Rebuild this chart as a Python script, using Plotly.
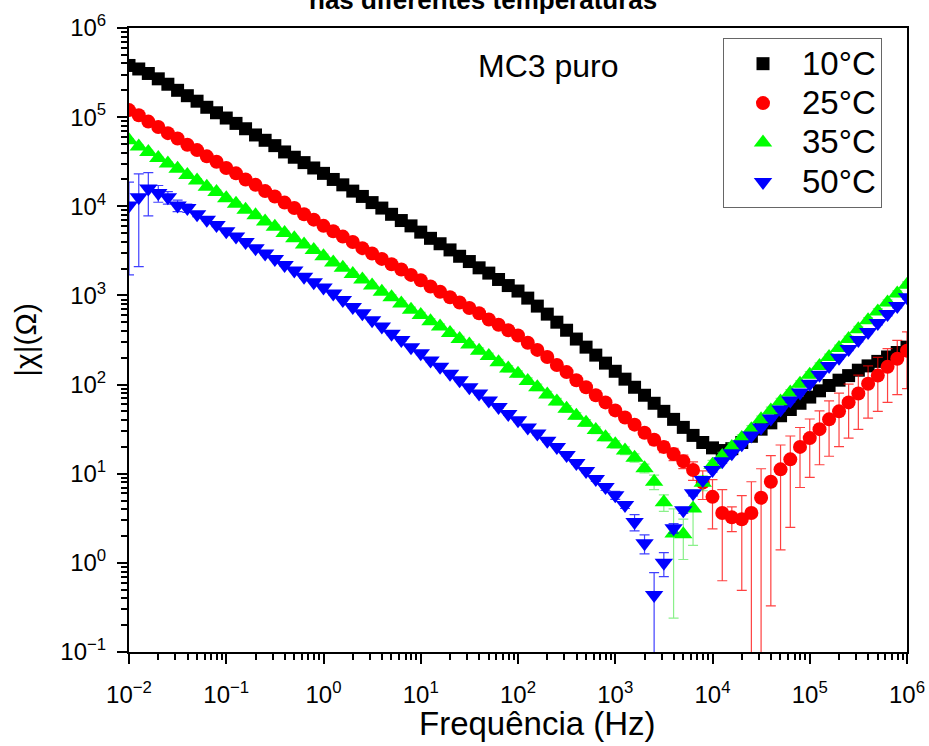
import plotly.graph_objects as go

# ---------------- data ----------------
FREQ_HZ = [
    0.01, 0.0126, 0.0158, 0.02, 0.0251, 0.0316, 0.0398, 0.0501, 0.0631, 0.0794,
    0.1, 0.126, 0.158, 0.2, 0.251, 0.316, 0.398, 0.501, 0.631, 0.794,
    1.0, 1.26, 1.58, 2.0, 2.51, 3.16, 3.98, 5.01, 6.31, 7.94,
    10.0, 12.6, 15.8, 20.0, 25.1, 31.6, 39.8, 50.1, 63.1, 79.4,
    100, 126, 158, 200, 251, 316, 398, 501, 631, 794,
    1000, 1260, 1580, 2000, 2510, 3160, 3980, 5010, 6310, 7940,
    1.0e4, 1.26e4, 1.58e4, 2.0e4, 2.51e4, 3.16e4, 3.98e4, 5.01e4, 6.31e4, 7.94e4,
    1.0e5, 1.26e5, 1.58e5, 2.0e5, 2.51e5, 3.16e5, 3.98e5, 5.01e5, 6.31e5, 7.94e5,
    1.0e6]

X_10C = [
    3.80e5, 3.47e5, 3.09e5, 2.69e5, 2.34e5, 2.00e5, 1.74e5, 1.51e5, 1.29e5, 1.12e5,
    9.77e4, 8.51e4, 7.41e4, 6.31e4, 5.50e4, 4.79e4, 4.07e4, 3.55e4, 3.09e4, 2.69e4,
    2.34e4, 2.00e4, 1.74e4, 1.48e4, 1.29e4, 1.10e4, 9550, 8130, 6920, 6030,
    5130, 4370, 3800, 3240, 2750, 2400, 2040, 1780, 1510, 1290,
    1120, 933, 759, 617, 501, 407, 324, 263, 214, 174,
    141, 115, 93.3, 75.9, 61.7, 50.1, 40.7, 33.1, 26.9, 22.4,
    19.5, 18.2, 19.1, 22.4, 26.3, 31.6, 37.2, 44.7, 52.5, 61.7,
    72.4, 85.1, 97.7, 112, 126, 145, 162, 182, 204, 229,
    263]

X_25C = [
    1.20e5, 1.05e5, 8.91e4, 7.76e4, 6.61e4, 5.75e4, 4.90e4, 4.27e4, 3.63e4, 3.16e4,
    2.69e4, 2.34e4, 2.00e4, 1.74e4, 1.48e4, 1.29e4, 1.10e4, 9550, 8130, 7080,
    6030, 5250, 4570, 3980, 3390, 2950, 2570, 2240, 1950, 1700,
    1480, 1260, 1100, 955, 832, 724, 631, 537, 468, 407,
    355, 295, 245, 204, 166, 138, 112, 93.3, 75.9, 63.1,
    51.3, 42.7, 35.5, 28.8, 24.0, 20.0, 16.6, 13.8, 11.0, 7.94,
    5.50, 3.63, 3.24, 3.09, 3.63, 5.37, 8.13, 11.2, 14.5, 20.0,
    25.1, 31.6, 40.7, 50.1, 63.1, 79.4, 102, 126, 158, 195,
    240]
ERR_25C = [
    4000, 3500, 3000, 2600, 2200, 1900, 1600, 1400, 1200, 1000,
    900, 800, 700, 600, 500, 450, 400, 350, 300, 260,
    220, 190, 170, 150, 130, 110, 100, 90, 80, 70,
    60, 52, 46, 40, 36, 32, 28, 24, 22, 19,
    17, 15, 13, 11, 9.5, 8, 7, 6, 5.5, 5,
    4.5, 4, 3.6, 3.2, 3, 2.8, 2.6, 2.4, 2.6, 2.8,
    3.1, 3.0, 1.0, 2.6, 4.5, 6.0, 7.8, 9.8, 12, 13,
    16, 19, 25, 30, 38, 48, 60, 76, 95, 118,
    150]

X_35C = [
    5.50e4, 4.68e4, 4.07e4, 3.47e4, 3.02e4, 2.63e4, 2.24e4, 1.95e4, 1.66e4, 1.45e4,
    1.23e4, 1.07e4, 9120, 7940, 6760, 5890, 5010, 4370, 3720, 3240,
    2750, 2340, 2040, 1740, 1510, 1290, 1100, 955, 813, 692,
    603, 513, 447, 380, 324, 282, 240, 209, 178, 151,
    132, 110, 93.3, 77.6, 64.6, 53.7, 44.7, 37.2, 30.9, 25.7,
    21.4, 18.2, 15.1, 11.5, 8.13, 4.79, 2.14, 2.09, 4.07, 7.94,
    12.6, 15.8, 20.0, 25.1, 31.6, 40.7, 51.3, 64.6, 81.3, 102,
    129, 162, 204, 257, 324, 417, 525, 661, 832, 1050,
    1320]
ERR_35C = [
    2500, 2000, 1800, 1500, 1300, 1100, 1000, 900, 800, 700,
    600, 500, 450, 400, 350, 300, 260, 230, 200, 170,
    150, 130, 120, 100, 90, 80, 70, 62, 54, 47,
    42, 36, 32, 28, 24, 21, 18, 16, 14, 12,
    10.5, 9, 7.6, 6.4, 5.4, 4.5, 3.8, 3.2, 2.7, 2.3,
    2.0, 1.8, 1.6, 1.3, 1.5, 1.0, 1.9, 1.0, 2.5, 1.5,
    1.5, 1.6, 2.0, 2.4, 3.0, 3.7, 4.5, 5.5, 6.8, 8.4,
    10.5, 13, 16, 20, 25, 32, 40, 50, 62, 78,
    98]

X_50C = [
    1.02e4, 1.26e4, 1.58e4, 1.41e4, 1.26e4, 1.02e4, 9550, 8130, 7080, 6170,
    5250, 4570, 3980, 3390, 2950, 2570, 2190, 1910, 1620, 1410,
    1230, 1050, 891, 741, 631, 525, 447, 372, 316, 263,
    224, 186, 158, 132, 112, 93.3, 79.4, 66.1, 56.2, 46.8,
    39.8, 33.1, 28.2, 23.4, 20.0, 16.2, 13.2, 10.7, 8.71, 7.08,
    5.75, 4.47, 2.88, 1.66, 0.437, 1.00, 2.45, 3.89, 6.03, 8.51,
    11.0, 13.8, 17.0, 21.4, 26.9, 33.1, 41.7, 52.5, 66.1, 81.3,
    102, 129, 162, 200, 251, 316, 389, 490, 617, 759,
    955]
ERR_50C = [
    8500, 10500, 8000, 3000, 2000, 1500, 1000, 500, 300, 250,
    200, 170, 150, 120, 100, 90, 75, 65, 55, 50,
    42, 36, 30, 25, 21, 18, 15, 13, 11, 9,
    8, 6.5, 5.5, 4.6, 3.9, 3.3, 2.8, 2.3, 2.0, 1.6,
    1.4, 1.2, 1.0, 0.8, 0.7, 0.6, 0.5, 0.45, 0.5, 0.6,
    0.6, 0.4, 0.6, 0.4, 0.34, 0.3, 0.3, 0.3, 0.4, 0.5,
    0.6, 0.7, 0.8, 1.0, 1.2, 1.5, 1.9, 2.4, 3.0, 3.7,
    4.6, 5.8, 7.3, 9, 11, 14, 17, 22, 28, 34,
    43]

SERIES_NAMES = ["10°C", "25°C", "35°C", "50°C"]

X_TICKVALS = [1e-2, 1e-1, 1e0, 1e1, 1e2, 1e3, 1e4, 1e5, 1e6]
X_TICKTEXT = ["10<sup>−2</sup>", "10<sup>−1</sup>", "10<sup>0</sup>", "10<sup>1</sup>",
              "10<sup>2</sup>", "10<sup>3</sup>", "10<sup>4</sup>", "10<sup>5</sup>",
              "10<sup>6</sup>"]
Y_TICKVALS = [1e-1, 1e0, 1e1, 1e2, 1e3, 1e4, 1e5, 1e6]
Y_TICKTEXT = ["10<sup>−1</sup>", "10<sup>0</sup>", "10<sup>1</sup>", "10<sup>2</sup>",
              "10<sup>3</sup>", "10<sup>4</sup>", "10<sup>5</sup>", "10<sup>6</sup>"]

FONT = "Liberation Sans, Arial, sans-serif"


def minor_positions(lo, hi):
    out = []
    for d in range(lo, hi):
        for m in range(2, 10):
            out.append(m * 10.0 ** d)
    return out


fig = go.Figure()

styles = [
    dict(symbol="square", color="#000000", size=13, err=None, errcolor=None),
    dict(symbol="circle", color="#FF0000", size=14, err=ERR_25C, errcolor="rgba(255,0,0,0.75)"),
    dict(symbol="triangle-up", color="#00FF00", size=16, err=ERR_35C, errcolor="rgba(60,230,60,0.6)"),
    dict(symbol="triangle-down", color="#0000FF", size=16, err=ERR_50C, errcolor="rgba(0,0,255,0.75)"),
]
ys = [X_10C, X_25C, X_35C, X_50C]

for name, y, st in zip(SERIES_NAMES, ys, styles):
    kw = {}
    if st["err"] is not None:
        kw["error_y"] = dict(type="data", array=st["err"], visible=True,
                             color=st["errcolor"], thickness=1.2, width=5)
    fig.add_trace(go.Scatter(
        x=FREQ_HZ, y=y,
        name="<span style='font-size:33px'>" + name + "</span>",
        mode="markers",
        marker=dict(symbol=st["symbol"], color=st["color"], size=st["size"],
                    line=dict(width=0)),
        **kw))

axis_common = dict(
    type="log", showline=True, linecolor="black", linewidth=2, mirror=True,
    ticks="outside", ticklen=10, tickwidth=2, tickcolor="black",
    showgrid=False, zeroline=False, automargin=False,
    tickfont=dict(family=FONT, size=24, color="black"),
    tickmode="array",
)

fig.update_xaxes(
    **axis_common,
    range=[-2, 6],
    tickvals=X_TICKVALS, ticktext=X_TICKTEXT, ticklabelstandoff=10,
    minor=dict(tickmode="array", tickvals=minor_positions(-2, 6), ticks="outside",
               ticklen=6, tickwidth=1.5, tickcolor="black", showgrid=False),
)
fig.update_yaxes(
    **axis_common,
    range=[-1, 6],
    tickvals=Y_TICKVALS, ticktext=Y_TICKTEXT, ticklabelstandoff=6,
    minor=dict(tickmode="array", tickvals=minor_positions(-1, 6), ticks="outside",
               ticklen=6, tickwidth=1.5, tickcolor="black", showgrid=False),
    title=dict(text="|χ|(Ω)", font=dict(family=FONT, size=30, color="black"),
               standoff=15),
)

fig.update_layout(
    width=929, height=746,
    margin=dict(l=129, r=22, t=28, b=94, autoexpand=False),
    paper_bgcolor="white", plot_bgcolor="white",
    font=dict(family=FONT, color="black"),
    showlegend=True,
    legend=dict(x=0.7635, y=0.984, xanchor="left", yanchor="top",
                bgcolor="white", bordercolor="#666666", borderwidth=1,
                font=dict(family=FONT, size=28, color="black"),
                itemwidth=68, tracegroupgap=0,
                entrywidth=75, entrywidthmode="pixels"),
    annotations=[
        dict(text="MC3 puro", x=0.5386, y=0.939, xref="paper", yref="paper",
             xanchor="center", yanchor="middle", showarrow=False,
             font=dict(family=FONT, size=32, color="black")),
        dict(text="<b>nas diferentes temperaturas</b>", x=0.455, y=1.0449,
             xref="paper", yref="paper", xanchor="center", yanchor="middle",
             showarrow=False, font=dict(family=FONT, size=26, color="black")),
        dict(text="Frequência (Hz)", x=0.5257, y=-0.114, xref="paper", yref="paper",
             xanchor="center", yanchor="middle", showarrow=False,
             font=dict(family=FONT, size=33, color="black")),
    ],
)

fig.write_html("out.html",
               config={"displayModeBar": False},
               post_script="document.body.style.margin='0';document.body.style.overflow='hidden';")
